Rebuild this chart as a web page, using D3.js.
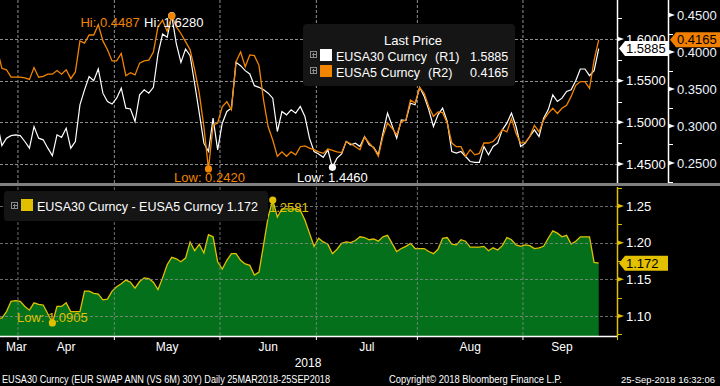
<!DOCTYPE html>
<html>
<head>
<meta charset="utf-8">
<script src="https://cdn.jsdelivr.net/npm/d3@7"></script>
<style>
  body { margin: 0; background: #000; }
  svg { display: block; }
  text { font-family: "Liberation Sans", Arial, sans-serif; }
</style>
</head>
<body>
<svg id="chart" width="720" height="386"></svg>
<script>
// daily values, 26 Mar 2018 .. 25 Sep 2018 (business days)
var eusa30 = [
  1.499, 1.472, 1.481, 1.484, 1.485, 1.484, 1.477, 1.469, 1.495, 1.481,
  1.479, 1.469, 1.460, 1.485, 1.482, 1.493, 1.469, 1.477, 1.521, 1.539,
  1.555, 1.550, 1.564, 1.535, 1.525, 1.522, 1.529, 1.541, 1.517, 1.516,
  1.501, 1.533, 1.539, 1.535, 1.542, 1.582, 1.606, 1.602, 1.628, 1.594,
  1.572, 1.588, 1.580, 1.546, 1.511, 1.475, 1.465, 1.505, 1.467, 1.499,
  1.513, 1.517, 1.572, 1.568, 1.562, 1.558, 1.544, 1.542, 1.539, 1.535,
  1.529, 1.489, 1.513, 1.509, 1.515, 1.511, 1.519, 1.507, 1.481, 1.465,
  1.462, 1.458, 1.467, 1.446, 1.457, 1.462, 1.477, 1.473, 1.475, 1.471,
  1.483, 1.473, 1.470, 1.461, 1.487, 1.511, 1.496, 1.481, 1.503, 1.502,
  1.523, 1.521, 1.542, 1.531, 1.515, 1.495, 1.509, 1.517, 1.501, 1.465,
  1.463, 1.465, 1.459, 1.453, 1.452, 1.452, 1.471, 1.461, 1.471, 1.475,
  1.491, 1.499, 1.511, 1.495, 1.471, 1.475, 1.483, 1.491, 1.483, 1.505,
  1.515, 1.533, 1.525, 1.529, 1.537, 1.539, 1.550, 1.564, 1.564, 1.556,
  1.562, 1.5885
];
var eusa5 = [
  0.403, 0.378, 0.376, 0.366, 0.366, 0.366, 0.365, 0.363, 0.379, 0.366,
  0.367, 0.370, 0.370, 0.375, 0.370, 0.376, 0.364, 0.373, 0.415, 0.412,
  0.423, 0.423, 0.437, 0.415, 0.403, 0.388, 0.388, 0.398, 0.368, 0.372,
  0.369, 0.385, 0.388, 0.389, 0.400, 0.434, 0.443, 0.428, 0.4487, 0.434,
  0.425, 0.414, 0.403, 0.376, 0.344, 0.299, 0.2420, 0.301, 0.304, 0.326,
  0.333, 0.322, 0.387, 0.400, 0.380, 0.396, 0.395, 0.382, 0.335, 0.299,
  0.281, 0.259, 0.265, 0.259, 0.265, 0.261, 0.272, 0.273, 0.270, 0.268,
  0.265, 0.263, 0.269, 0.267, 0.265, 0.264, 0.279, 0.276, 0.272, 0.268,
  0.285, 0.277, 0.270, 0.259, 0.286, 0.304, 0.297, 0.288, 0.306, 0.308,
  0.335, 0.331, 0.352, 0.344, 0.326, 0.313, 0.319, 0.318, 0.304, 0.277,
  0.272, 0.272, 0.259, 0.268, 0.261, 0.263, 0.277, 0.277, 0.279, 0.286,
  0.295, 0.292, 0.310, 0.290, 0.277, 0.278, 0.286, 0.301, 0.292, 0.308,
  0.317, 0.324, 0.317, 0.324, 0.328, 0.340, 0.355, 0.360, 0.360, 0.351,
  0.389, 0.4165
];
var spread = [
  1.097, 1.097, 1.106, 1.120, 1.121, 1.120, 1.113, 1.108, 1.118, 1.116,
  1.115, 1.103, 1.0905, 1.113, 1.113, 1.118, 1.106, 1.106, 1.106, 1.134,
  1.134, 1.131, 1.130, 1.122, 1.123, 1.134, 1.140, 1.144, 1.149, 1.146,
  1.138, 1.147, 1.152, 1.151, 1.146, 1.136, 1.152, 1.170, 1.180, 1.178,
  1.174, 1.179, 1.201, 1.189, 1.198, 1.186, 1.211, 1.208, 1.174, 1.164,
  1.176, 1.185, 1.185, 1.176, 1.171, 1.169, 1.156, 1.160, 1.197, 1.235,
  1.2581, 1.235, 1.246, 1.246, 1.246, 1.246, 1.244, 1.231, 1.213, 1.195,
  1.206, 1.201, 1.198, 1.185, 1.191, 1.199, 1.201, 1.200, 1.203, 1.208,
  1.207, 1.204, 1.205, 1.202, 1.208, 1.210, 1.199, 1.188, 1.192, 1.195,
  1.199, 1.192, 1.192, 1.192, 1.188, 1.185, 1.191, 1.206, 1.207, 1.198,
  1.197, 1.204, 1.202, 1.194, 1.194, 1.194, 1.195, 1.189, 1.193, 1.190,
  1.196, 1.207, 1.204, 1.197, 1.195, 1.197, 1.196, 1.192, 1.193, 1.195,
  1.206, 1.216, 1.213, 1.208, 1.210, 1.198, 1.202, 1.208, 1.208, 1.208,
  1.173, 1.172
];
var r1Ticks = [1.45, 1.50, 1.55, 1.60];
var r2Ticks = [0.25, 0.30, 0.35, 0.40, 0.45];
var spreadTicks = [1.10, 1.15, 1.20, 1.25];
var monthNames = ["Mar", "Apr", "May", "Jun", "Jul", "Aug", "Sep"];

var WHITE = "#ffffff", ORANGE = "#f28500", YELLOW = "#e0c000", GREEN = "#04701c", GRID = "#8f8f8f";
var plotRight = 617;

var svg = d3.select("#chart");
svg.append("rect").attr("width", 720).attr("height", 386).attr("fill", "#000");

var days = d3.timeDay.range(new Date(2018, 2, 26), new Date(2018, 8, 26))
  .filter(function (d) { return d.getDay() > 0 && d.getDay() < 6; });

var x = d3.scaleLinear().domain([0, eusa30.length - 1]).range([-2.7, 598.7]);
var yR1 = d3.scaleLinear().domain([1.45, 1.60]).range([164, 39]);
var yR2 = d3.scaleLinear().domain([0.25, 0.45]).range([163, 15]);
var yS = d3.scaleLinear().domain([1.10, 1.25]).range([316, 206]);

// month boundaries (first business day of each month)
var monthStarts = [0];
days.forEach(function (d, i) {
  if (i > 0 && d.getMonth() !== days[i - 1].getMonth()) monthStarts.push(i);
});
var boundaries = monthStarts.slice(1);

var defs = svg.append("defs");
defs.append("clipPath").attr("id", "clipTop").append("rect")
  .attr("x", 0).attr("y", 0).attr("width", plotRight).attr("height", 183);
defs.append("clipPath").attr("id", "clipBot").append("rect")
  .attr("x", 0).attr("y", 187).attr("width", plotRight).attr("height", 149);

// ---- grids ----
function vGrid(g, y0, y1) {
  g.selectAll("line.v").data(boundaries).enter().append("line")
    .attr("x1", function (i) { return x(i - 0.5); })
    .attr("x2", function (i) { return x(i - 0.5); })
    .attr("y1", y0).attr("y2", y1)
    .attr("stroke", GRID).attr("stroke-dasharray", "3,2");
}
var gridTop = svg.append("g");
vGrid(gridTop, 0, 183);
gridTop.selectAll("line.h").data(r1Ticks).enter().append("line")
  .attr("x1", 0).attr("x2", plotRight)
  .attr("y1", function (d) { return Math.round(yR1(d)) + 0.5; })
  .attr("y2", function (d) { return Math.round(yR1(d)) + 0.5; })
  .attr("stroke", GRID).attr("stroke-dasharray", "3,2");

// ---- top lines ----
var topG = svg.append("g").attr("clip-path", "url(#clipTop)");
topG.append("path").datum(eusa30)
  .attr("fill", "none").attr("stroke", WHITE).attr("stroke-width", 1.2)
  .attr("d", d3.line().x(function (d, i) { return x(i); }).y(function (d) { return yR1(d); }));
topG.append("path").datum(eusa5)
  .attr("fill", "none").attr("stroke", ORANGE).attr("stroke-width", 1.3)
  .attr("d", d3.line().x(function (d, i) { return x(i); }).y(function (d) { return yR2(d); }));

// ---- bottom area ----
var botG = svg.append("g").attr("clip-path", "url(#clipBot)");
botG.append("path").datum(spread)
  .attr("fill", GREEN)
  .attr("d", d3.area().x(function (d, i) { return x(i); }).y0(336).y1(function (d) { return yS(d); }));
botG.append("path").datum(spread)
  .attr("fill", "none").attr("stroke", YELLOW).attr("stroke-width", 1.3)
  .attr("d", d3.line().x(function (d, i) { return x(i); }).y(function (d) { return yS(d); }));
var gridBot = svg.append("g").attr("opacity", 0.75);
vGrid(gridBot, 187, 336);
gridBot.selectAll("line.h").data(spreadTicks).enter().append("line")
  .attr("x1", 0).attr("x2", plotRight)
  .attr("y1", function (d) { return Math.round(yS(d)) + 0.5; })
  .attr("y2", function (d) { return Math.round(yS(d)) + 0.5; })
  .attr("stroke", GRID).attr("stroke-dasharray", "3,2");

// separator between panels
svg.append("rect").attr("x", 0).attr("y", 183).attr("width", 720).attr("height", 3).attr("fill", "#808080");

// ---- right axes ----
function rightAxis(scale, ticks, xPos, y0, y1, color, labelColor, fmt) {
  var g = svg.append("g").attr("transform", "translate(" + xPos + ",0)");
  g.append("line").attr("x1", 0.5).attr("x2", 0.5).attr("y1", y0).attr("y2", y1)
    .attr("stroke", color).attr("stroke-width", 1.5);
  var step = ticks[1] - ticks[0];
  var minors = d3.range(ticks[0] - step / 2, ticks[ticks.length - 1] + step, step)
    .filter(function (v) { var p = scale(v); return p > y0 && p < y1; });
  g.selectAll("line.minor").data(minors).enter().append("line")
    .attr("x1", 0).attr("x2", 5)
    .attr("y1", function (d) { return Math.round(scale(d)) + 0.5; })
    .attr("y2", function (d) { return Math.round(scale(d)) + 0.5; })
    .attr("stroke", color);
  g.selectAll("path.tri").data(ticks).enter().append("path")
    .attr("fill", color)
    .attr("d", function (d) {
      var p = scale(d);
      return "M0," + (p - 2.5) + "L7," + p + "L0," + (p + 2.5) + "Z";
    });
  var ax = d3.axisRight(scale).tickValues(ticks).tickFormat(d3.format(fmt)).tickSize(0).tickPadding(9);
  var a = g.append("g").call(ax);
  a.select(".domain").remove();
  a.selectAll("text").attr("fill", labelColor).attr("font-size", 13)
    .attr("font-family", "'Liberation Sans', Arial, sans-serif");
}
rightAxis(yR1, r1Ticks, plotRight, 0, 183, WHITE, WHITE, ".4f");
rightAxis(yR2, r2Ticks, 668, 0, 183, WHITE, "#eef4ff", ".4f");
rightAxis(yS, spreadTicks, plotRight, 187, 336, YELLOW, WHITE, ".2f");

// value tags
function tag(x0, x1, yc, fill, label) {
  var h = 7.5;
  svg.append("path").attr("fill", fill)
    .attr("d", "M" + x0 + "," + yc + "L" + (x0 + 6) + "," + (yc - h) + "L" + x1 + "," + (yc - h) +
      "L" + x1 + "," + (yc + h) + "L" + (x0 + 6) + "," + (yc + h) + "Z");
  svg.append("text").attr("x", x0 + 7).attr("y", yc + 4.5).attr("fill", "#000")
    .attr("font-size", 13).text(label);
}
tag(619, 668, yR1(eusa30[eusa30.length - 1]), WHITE, d3.format(".4f")(eusa30[eusa30.length - 1]));
tag(670, 720, yR2(eusa5[eusa5.length - 1]), "#f07f00", d3.format(".4f")(eusa5[eusa5.length - 1]));
tag(619, 668, yS(spread[spread.length - 1]), "#e3c000", d3.format(".3f")(spread[spread.length - 1]));

// ---- x axis ----
svg.append("line").attr("x1", 0).attr("x2", plotRight).attr("y1", 336.5).attr("y2", 336.5)
  .attr("stroke", WHITE).attr("stroke-width", 1.5);
svg.selectAll("line.xt").data(boundaries).enter().append("line")
  .attr("x1", function (i) { return x(i - 0.5); }).attr("x2", function (i) { return x(i - 0.5); })
  .attr("y1", 336).attr("y2", 340).attr("stroke", WHITE);
svg.append("line").attr("x1", plotRight + 0.5).attr("x2", plotRight + 0.5).attr("y1", 336).attr("y2", 340)
  .attr("stroke", YELLOW);
svg.selectAll("text.month").data(monthStarts).enter().append("text")
  .attr("x", function (s, k) {
    if (k === 0) return 6;
    var e = k + 1 < monthStarts.length ? monthStarts[k + 1] : eusa30.length;
    return (x(s - 0.5) + x(e - 0.5)) / 2;
  })
  .attr("text-anchor", function (s, k) { return k === 0 ? "start" : "middle"; })
  .attr("y", 351).attr("fill", WHITE).attr("font-size", 12)
  .text(function (s, k) { return monthNames[k]; });
svg.append("text").attr("x", 308).attr("y", 367).attr("text-anchor", "middle")
  .attr("fill", WHITE).attr("font-size", 12).text("2018");

// ---- hi / low markers ----
function marker(cx, cy, color) {
  svg.append("circle").attr("cx", cx).attr("cy", cy).attr("r", 3.6).attr("fill", color);
}
function note(tx, ty, anchor, color, str) {
  svg.append("text").attr("x", tx).attr("y", ty).attr("text-anchor", anchor)
    .attr("fill", color).attr("font-size", 13).text(str);
}
var f4 = d3.format(".4f");
var hiW = d3.maxIndex(eusa30), loW = d3.minIndex(eusa30);
var hiO = d3.maxIndex(eusa5), loO = d3.minIndex(eusa5);
var hiS = d3.maxIndex(spread), loS = d3.minIndex(spread);

marker(x(hiW), yR1(eusa30[hiW]), WHITE);
marker(x(loW), yR1(eusa30[loW]), WHITE);
marker(x(hiO), yR2(eusa5[hiO]), ORANGE);
marker(x(loO), yR2(eusa5[loO]), ORANGE);
note(x(hiW) + 2, 27, "middle", WHITE, "Hi: " + f4(eusa30[hiW]));
note(x(hiW) - 32, 27, "end", ORANGE, "Hi: " + f4(eusa5[hiO]));
note(x(loO) + 1, 182, "middle", ORANGE, "Low: " + f4(eusa5[loO]));
note(x(loW), 182, "middle", WHITE, "Low: " + f4(eusa30[loW]));

// spread hi label sits partly behind the legend box, as in the original
note(x(hiS) + 36, yS(spread[hiS]) + 12, "end", YELLOW, "Hi: " + f4(spread[hiS]));
note(x(loS), 322, "middle", YELLOW, "Low: " + f4(spread[loS]));
marker(x(hiS), yS(spread[hiS]), YELLOW);
marker(x(loS), yS(spread[loS]), YELLOW);

// ---- legends ----
function plusBox(px, py) {
  svg.append("rect").attr("x", px + 0.5).attr("y", py + 0.5).attr("width", 6).attr("height", 6)
    .attr("fill", "none").attr("stroke", "#8a8a8a");
  svg.append("path").attr("stroke", "#8a8a8a")
    .attr("d", "M" + (px + 2) + "," + (py + 3.5) + "H" + (px + 6) + "M" + (px + 3.5) + "," + (py + 2) + "V" + (py + 6));
}
svg.append("rect").attr("x", 303).attr("y", 24).attr("width", 212).attr("height", 62)
  .attr("rx", 4).attr("fill", "#151515");
svg.append("text").attr("x", 413).attr("y", 45).attr("text-anchor", "middle")
  .attr("fill", WHITE).attr("font-size", 13).text("Last Price");
var legendRows = [
  { name: "EUSA30 Curncy", side: "(R1)", value: f4(eusa30[eusa30.length - 1]), color: WHITE, rx: 435 },
  { name: "EUSA5 Curncy", side: "(R2)", value: f4(eusa5[eusa5.length - 1]), color: ORANGE, rx: 428 }
];
legendRows.forEach(function (r, k) {
  var yy = 61 + k * 16;
  plusBox(310, yy - 10);
  svg.append("rect").attr("x", 320).attr("y", yy - 12).attr("width", 12).attr("height", 12).attr("fill", r.color);
  svg.append("text").attr("x", 336).attr("y", yy).attr("fill", WHITE).attr("font-size", 12.5).text(r.name);
  svg.append("text").attr("x", r.rx).attr("y", yy).attr("fill", WHITE).attr("font-size", 12.5).text(r.side);
  svg.append("text").attr("x", 470).attr("y", yy).attr("fill", WHITE).attr("font-size", 12.5).text(r.value);
});

svg.append("rect").attr("x", 4).attr("y", 191).attr("width", 264).attr("height", 30)
  .attr("rx", 4).attr("fill", "#151515");
plusBox(11, 202);
svg.append("rect").attr("x", 21).attr("y", 199).attr("width", 12).attr("height", 12).attr("fill", YELLOW);
svg.append("text").attr("x", 37).attr("y", 211).attr("fill", WHITE).attr("font-size", 12.5)
  .text("EUSA30 Curncy - EUSA5 Curncy " + d3.format(".3f")(spread[spread.length - 1]));

// ---- footer ----
svg.append("text").attr("x", 2).attr("y", 383).attr("fill", WHITE).attr("font-size", 10.5)
  .attr("textLength", 328).attr("lengthAdjust", "spacingAndGlyphs")
  .text("EUSA30 Curncy (EUR SWAP ANN (VS 6M) 30Y)  Daily 25MAR2018-25SEP2018");
svg.append("text").attr("x", 389).attr("y", 383).attr("fill", WHITE).attr("font-size", 10.5)
  .attr("textLength", 173).attr("lengthAdjust", "spacingAndGlyphs")
  .text("Copyright\u00a9 2018 Bloomberg Finance L.P.");
svg.append("text").attr("x", 621).attr("y", 383).attr("fill", WHITE).attr("font-size", 9.5)
  .attr("textLength", 94).attr("lengthAdjust", "spacingAndGlyphs")
  .text("25-Sep-2018 16:32:06");
</script>
</body>
</html>
